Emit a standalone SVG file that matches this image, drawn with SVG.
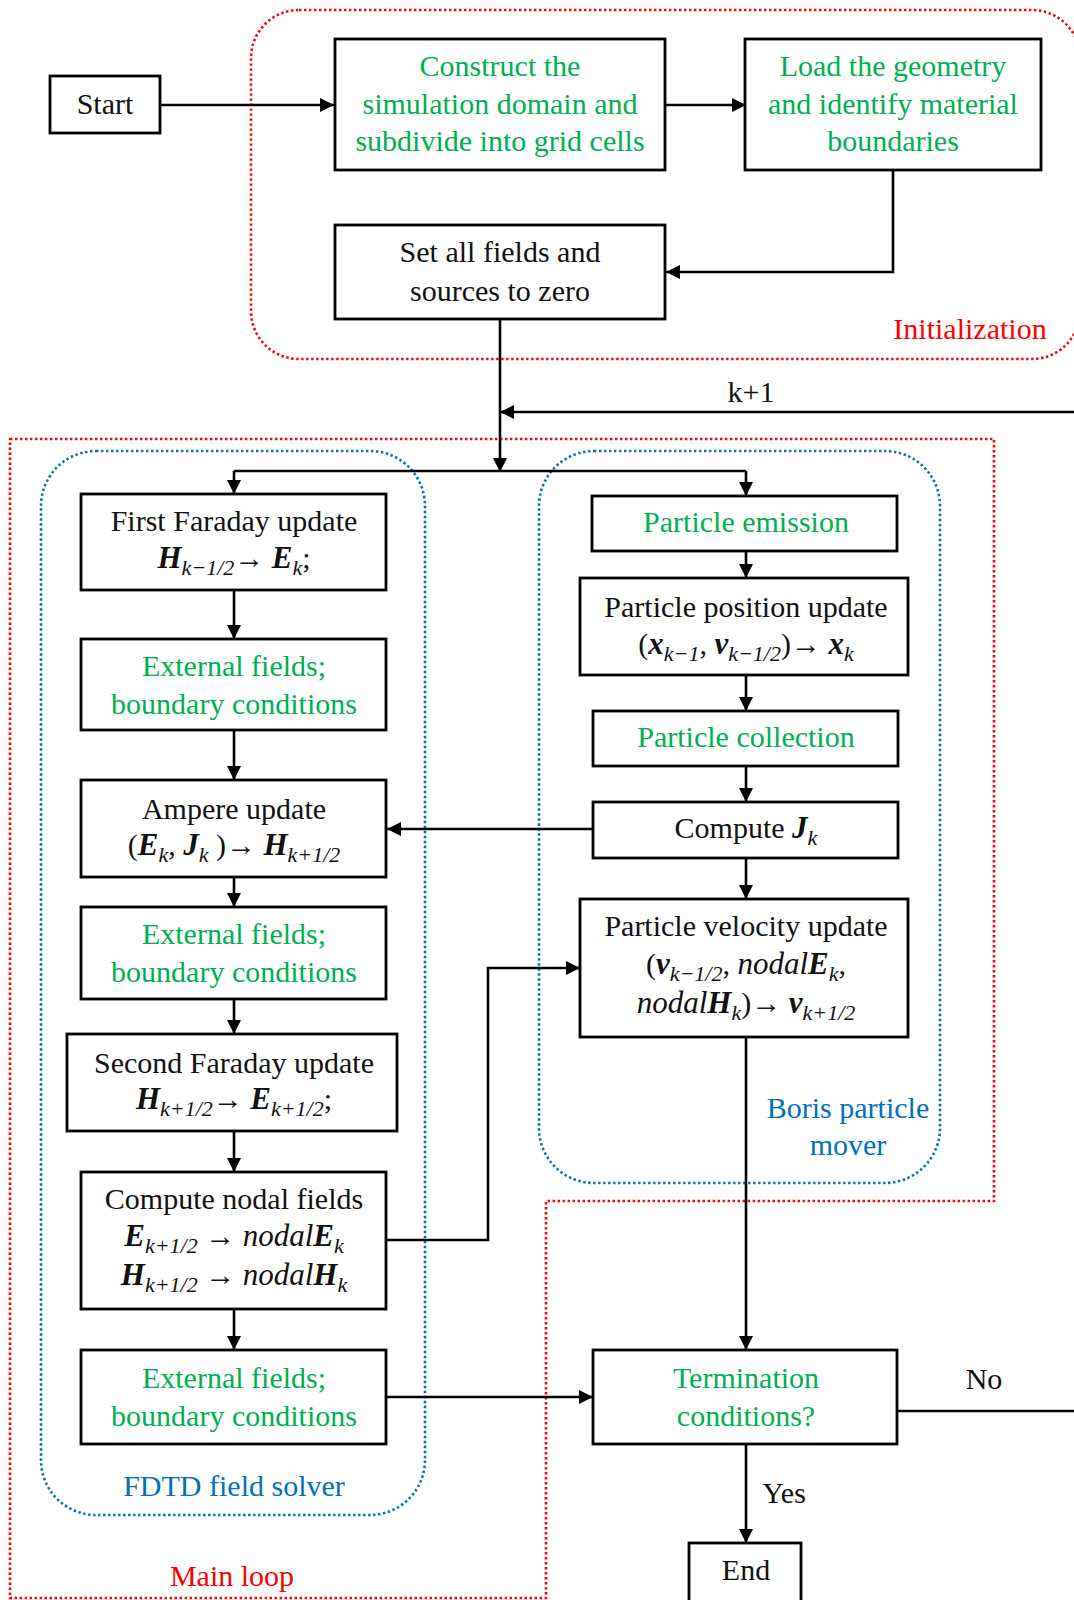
<svg xmlns="http://www.w3.org/2000/svg" width="1074" height="1600" viewBox="0 0 1074 1600">
<defs>
<marker id="arr" markerUnits="userSpaceOnUse" markerWidth="15" markerHeight="14" refX="14" refY="7" orient="auto"><path d="M0,0 L14,7 L0,14 z" fill="#000"/></marker>
<style>
text{font-family:"Liberation Serif","Times New Roman",serif;font-size:30px;text-anchor:middle;fill:#111}
.g{fill:#00B050}
.r{fill:#FF0000}
.b{fill:#0070C0}
.box{fill:#fff;stroke:#000;stroke-width:2.8}
.c{fill:none;stroke:#000;stroke-width:2.6}
.dr{fill:none;stroke:#FF0000;stroke-width:2.6;stroke-dasharray:2.4 2.6}
.db{fill:none;stroke:#0070C0;stroke-width:2.6;stroke-dasharray:2.4 2.6}
.bi{font-weight:bold;font-style:italic;font-size:31px}
.it{font-style:italic;font-size:31px}
.sub{font-size:22px;font-style:italic}
.ar{font-size:30px}
</style>
</defs>
<rect fill="#fff" width="1074" height="1600"/>
<g id="groups">
<rect id="init-group" class="dr" x="251" y="10" width="829" height="349" rx="48"/>
<path id="main-loop-group" class="dr" d="M10,439 H994 V1201 H546 V1598 H10 Z"/>
<rect id="fdtd-group" class="db" x="41" y="451" width="384" height="1064" rx="55"/>
<rect id="boris-group" class="db" x="539" y="451" width="401" height="732" rx="55"/>
<text class="r" x="970" y="339">Initialization</text>
<text class="r" x="232" y="1586">Main loop</text>
<text class="b" x="234" y="1496">FDTD field solver</text>
<text class="b" x="848" y="1118">Boris particle</text>
<text class="b" x="848" y="1155">mover</text>
</g>
<g id="connectors">
<path class="c" d="M160,105 H334" marker-end="url(#arr)"/>
<path class="c" d="M665,105 H746" marker-end="url(#arr)"/>
<path class="c" d="M893,170 V272 H666" marker-end="url(#arr)"/>
<path class="c" d="M500,319 V472" marker-end="url(#arr)"/>
<path class="c" d="M1074,412 H500" marker-end="url(#arr)"/>
<path class="c" d="M234,471 H746"/>
<path class="c" d="M234,471 V494" marker-end="url(#arr)"/>
<path class="c" d="M746,471 V496" marker-end="url(#arr)"/>
<path class="c" d="M234,590 V639" marker-end="url(#arr)"/>
<path class="c" d="M234,730 V780" marker-end="url(#arr)"/>
<path class="c" d="M234,877 V907" marker-end="url(#arr)"/>
<path class="c" d="M234,999 V1034" marker-end="url(#arr)"/>
<path class="c" d="M234,1131 V1172" marker-end="url(#arr)"/>
<path class="c" d="M234,1309 V1350" marker-end="url(#arr)"/>
<path class="c" d="M746,551 V578" marker-end="url(#arr)"/>
<path class="c" d="M746,675 V711" marker-end="url(#arr)"/>
<path class="c" d="M746,766 V802" marker-end="url(#arr)"/>
<path class="c" d="M746,858 V899" marker-end="url(#arr)"/>
<path class="c" d="M593,829 H387" marker-end="url(#arr)"/>
<path class="c" d="M386,1240 H488 V968 H580" marker-end="url(#arr)"/>
<path class="c" d="M386,1397 H593" marker-end="url(#arr)"/>
<path class="c" d="M746,1037 V1350" marker-end="url(#arr)"/>
<path class="c" d="M897,1411 H1074"/>
<path class="c" d="M746,1444 V1543" marker-end="url(#arr)"/>
<text x="751" y="402">k+1</text>
<text x="984" y="1389">No</text>
<text x="784" y="1503">Yes</text>
</g>
<g id="start"><rect class="box" x="50" y="76" width="110" height="57"/><text x="105" y="114">Start</text></g>
<g id="construct"><rect class="box" x="335" y="39" width="330" height="131"/>
<text class="g" x="500" y="76">Construct the</text><text class="g" x="500" y="114">simulation domain and</text><text class="g" x="500" y="151">subdivide into grid cells</text></g>
<g id="load"><rect class="box" x="745" y="39" width="296" height="131"/>
<text class="g" x="893" y="76">Load the geometry</text><text class="g" x="893" y="114">and identify material</text><text class="g" x="893" y="151">boundaries</text></g>
<g id="set-zero"><rect class="box" x="335" y="225" width="330" height="94"/>
<text x="500" y="262">Set all fields and</text><text x="500" y="301">sources to zero</text></g>
<g id="first-faraday"><rect class="box" x="81" y="494" width="305" height="96"/>
<text x="234" y="531">First Faraday update</text>
<text x="234" y="568"><tspan class="bi">H</tspan><tspan class="sub" dy="7">k−1/2</tspan><tspan class="ar" dy="-7">→ </tspan><tspan class="bi">E</tspan><tspan class="sub" dy="7">k</tspan><tspan dy="-7">;</tspan></text></g>
<g id="ext1"><rect class="box" x="81" y="639" width="305" height="91"/>
<text class="g" x="234" y="676">External fields;</text><text class="g" x="234" y="714">boundary conditions</text></g>
<g id="ampere"><rect class="box" x="81" y="780" width="305" height="97"/>
<text x="234" y="819">Ampere update</text>
<text x="234" y="855">(<tspan class="bi">E</tspan><tspan class="sub" dy="7">k</tspan><tspan dy="-7">, </tspan><tspan class="bi">J</tspan><tspan class="sub" dy="7">k</tspan><tspan dy="-7"> )→ </tspan><tspan class="bi">H</tspan><tspan class="sub" dy="7">k+1/2</tspan></text></g>
<g id="ext2"><rect class="box" x="81" y="907" width="305" height="92"/>
<text class="g" x="234" y="944">External fields;</text><text class="g" x="234" y="982">boundary conditions</text></g>
<g id="second-faraday"><rect class="box" x="67" y="1034" width="330" height="97"/>
<text x="234" y="1073">Second Faraday update</text>
<text x="234" y="1109"><tspan class="bi">H</tspan><tspan class="sub" dy="7">k+1/2</tspan><tspan dy="-7">→ </tspan><tspan class="bi">E</tspan><tspan class="sub" dy="7">k+1/2</tspan><tspan dy="-7">;</tspan></text></g>
<g id="nodal"><rect class="box" x="81" y="1172" width="305" height="137"/>
<text x="234" y="1209">Compute nodal fields</text>
<text x="234" y="1246"><tspan class="bi">E</tspan><tspan class="sub" dy="7">k+1/2</tspan><tspan dy="-7"> → </tspan><tspan class="it">nodal</tspan><tspan class="bi">E</tspan><tspan class="sub" dy="7">k</tspan></text>
<text x="234" y="1285"><tspan class="bi">H</tspan><tspan class="sub" dy="7">k+1/2</tspan><tspan dy="-7"> → </tspan><tspan class="it">nodal</tspan><tspan class="bi">H</tspan><tspan class="sub" dy="7">k</tspan></text></g>
<g id="ext3"><rect class="box" x="81" y="1350" width="305" height="94"/>
<text class="g" x="234" y="1388">External fields;</text><text class="g" x="234" y="1426">boundary conditions</text></g>
<g id="emission"><rect class="box" x="592" y="496" width="305" height="55"/>
<text class="g" x="746" y="532">Particle emission</text></g>
<g id="position"><rect class="box" x="580" y="578" width="328" height="97"/>
<text x="746" y="617">Particle position update</text>
<text x="746" y="654">(<tspan class="bi">x</tspan><tspan class="sub" dy="7">k−1</tspan><tspan dy="-7">, </tspan><tspan class="bi">v</tspan><tspan class="sub" dy="7">k−1/2</tspan><tspan dy="-7">)→ </tspan><tspan class="bi">x</tspan><tspan class="sub" dy="7">k</tspan></text></g>
<g id="collection"><rect class="box" x="593" y="711" width="305" height="55"/>
<text class="g" x="746" y="747">Particle collection</text></g>
<g id="compute-j"><rect class="box" x="593" y="802" width="305" height="56"/>
<text x="746" y="838">Compute <tspan class="bi">J</tspan><tspan class="sub" dy="7">k</tspan></text></g>
<g id="velocity"><rect class="box" x="580" y="899" width="328" height="138"/>
<text x="746" y="936">Particle velocity update</text>
<text x="746" y="974">(<tspan class="bi">v</tspan><tspan class="sub" dy="7">k−1/2</tspan><tspan dy="-7">, </tspan><tspan class="it">nodal</tspan><tspan class="bi">E</tspan><tspan class="sub" dy="7">k</tspan><tspan dy="-7">,</tspan></text>
<text x="746" y="1013"><tspan class="it">nodal</tspan><tspan class="bi">H</tspan><tspan class="sub" dy="7">k</tspan><tspan dy="-7">)→ </tspan><tspan class="bi">v</tspan><tspan class="sub" dy="7">k+1/2</tspan></text></g>
<g id="termination"><rect class="box" x="593" y="1350" width="304" height="94"/>
<text class="g" x="746" y="1388">Termination</text><text class="g" x="746" y="1426">conditions?</text></g>
<g id="end"><rect class="box" x="689" y="1543" width="112" height="60"/><text x="746" y="1580">End</text></g>
</svg>
